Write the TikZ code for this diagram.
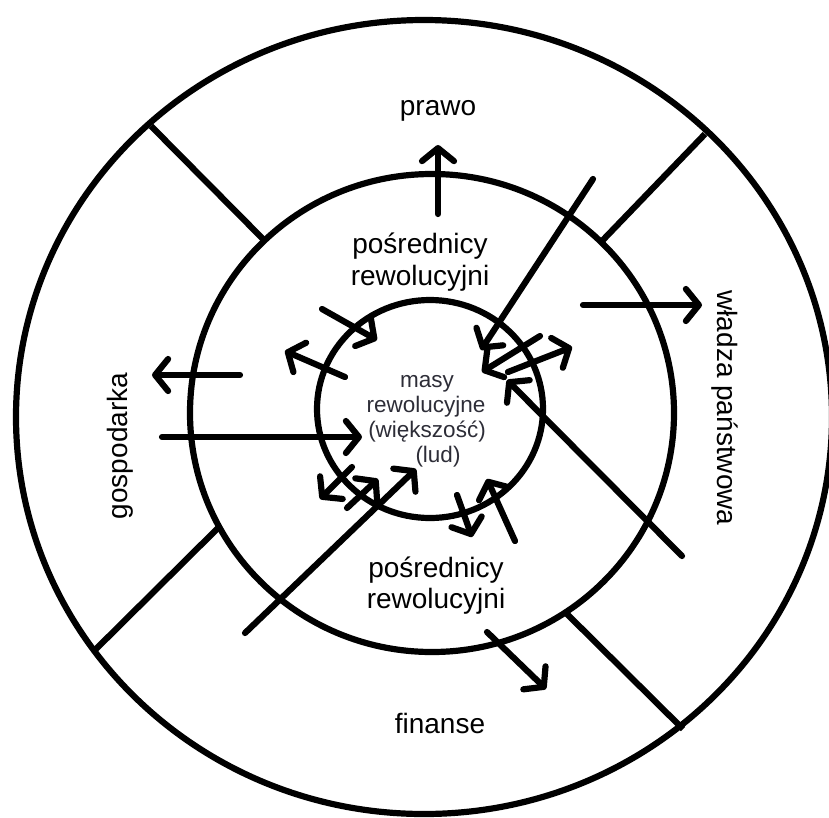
\documentclass[tikz,border=0pt]{standalone}
\usepackage{fontspec}
\setmainfont{Liberation Sans}
\usetikzlibrary{arrows.meta}
\definecolor{innertext}{RGB}{45,45,55}
\begin{document}
\begin{tikzpicture}[x=1pt, y=-1pt,
    ring/.style={line width=6.2pt},
    divider/.style={line width=6.2pt},
    arr/.style={line width=6.2pt, line cap=round,
      -{Straight Barb[length=13pt, width=32pt, round]}},
    lbl/.style={font=\fontsize{28}{32}\selectfont, inner sep=0pt, anchor=base},
    mlbl/.style={font=\fontsize{22.5}{25}\selectfont, text=innertext, inner sep=0pt, anchor=base}]
  \useasboundingbox (0,0) rectangle (829,817);
  \clip (0,0) rectangle (829,817);

  % three rings
  \draw[ring] (424,417) ellipse [x radius=408pt, y radius=397pt];
  \draw[ring] (432,413) ellipse [x radius=242pt, y radius=239pt];
  \draw[ring] (430,409) ellipse [x radius=113pt, y radius=109pt];

  % sector dividers between outer and middle ring
  \coordinate (dTLo) at (151,126);  \coordinate (dTLi) at (263,239);
  \coordinate (dTRo) at (705,134);  \coordinate (dTRi) at (602,241);
  \coordinate (dBLo) at (94,651);   \coordinate (dBLi) at (218,528);
  \coordinate (dBRo) at (683,729);  \coordinate (dBRi) at (567,614);
  \draw[divider] (dTLo) -- (dTLi);
  \draw[divider] (dTRo) -- (dTRi);
  \draw[divider] (dBLo) -- (dBLi);
  \draw[divider] (dBRo) -- (dBRi);

  % labels
  \node[lbl] (prawo) at (438,115) {prawo};
  \node[lbl] (posTa) at (420,253) {pośrednicy};
  \node[lbl] (posTb) at (420,285) {rewolucyjni};
  \node[lbl] (posBa) at (436,577) {pośrednicy};
  \node[lbl] (posBb) at (436,608) {rewolucyjni};
  \node[lbl] (finanse) at (440,733) {finanse};
  \node[lbl, anchor=center, rotate=90] (gosp) at (120,446) {gospodarka};
  \node[lbl, anchor=center, rotate=-90] (wladza) at (725,408) {władza państwowa};
  \node[mlbl] (masyA) at (427,387) {masy};
  \node[mlbl] (masyB) at (426,412) {rewolucyjne};
  \node[mlbl] (masyC) at (427,437) {(większość)};
  \node[mlbl] (masyD) at (438,462) {(lud)};

  % arrow end points
  \coordinate (a1s) at (438,214);  \coordinate (a1e) at (438,145);
  \coordinate (a2s) at (583,305);  \coordinate (a2e) at (702,305);
  \coordinate (a3s) at (240,375);  \coordinate (a3e) at (152,375);
  \coordinate (a4s) at (162,437);  \coordinate (a4e) at (362,437);
  \coordinate (a5s) at (487,632);  \coordinate (a5e) at (546,689);
  \coordinate (a6s) at (593,179);  \coordinate (a6e) at (481,350);
  \coordinate (a7s) at (540,336);  \coordinate (a7e) at (482,372);
  \coordinate (a8s) at (508,372);  \coordinate (a8e) at (572,347);
  \coordinate (a9s) at (682,556);  \coordinate (a9e) at (507,380);
  \coordinate (b1s) at (322,309);  \coordinate (b1e) at (377,340);
  \coordinate (b2s) at (345,377);  \coordinate (b2e) at (285,351);
  \coordinate (b3s) at (352,467);  \coordinate (b3e) at (320,499);
  \coordinate (b4s) at (347,508);  \coordinate (b4e) at (378,479);
  \coordinate (b5s) at (245,633);  \coordinate (b5e) at (416,469);
  \coordinate (b6s) at (457,495);  \coordinate (b6e) at (472,537);
  \coordinate (b7s) at (515,541);  \coordinate (b7e) at (487,479);

  % arrows
  \foreach \p in {a1,a2,a3,a4,a5,a6,a7,a8,a9,b1,b2,b3,b4,b5,b6,b7}
    \draw[arr] (\p s) -- (\p e);
\end{tikzpicture}
\end{document}
